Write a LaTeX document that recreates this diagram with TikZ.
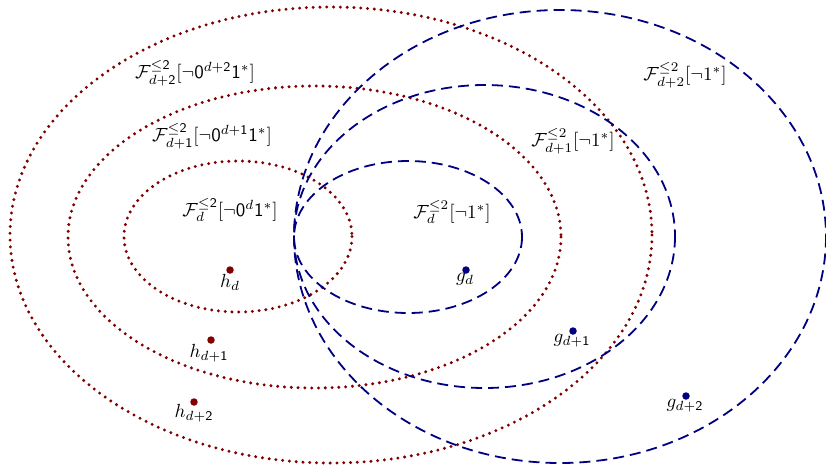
\documentclass[tikz,border=0pt]{standalone}
\newcommand{\sd}[1]{\mathsf{#1}}
\begin{document}
\begin{tikzpicture}[x=1pt,y=-1pt,
  redc/.style={draw=red!50!black, line width=3.3pt, line cap=round, dash pattern=on 0pt off 6.8pt},
  bluec/.style={draw=blue!50!black, line width=1.8pt, dash pattern=on 11pt off 6pt},
  lab/.style={scale=1.9, inner sep=0pt},
  ptlab/.style={scale=1.9, inner sep=0pt, anchor=north},
  rdot/.style={circle, fill=red!50!black, inner sep=0pt, minimum size=7.5pt},
  bdot/.style={circle, fill=blue!50!black, inner sep=0pt, minimum size=7.5pt}]
\useasboundingbox (0,0) rectangle (826,467);
% red ellipses
\draw[redc] (331,235) ellipse [x radius=321, y radius=228];
\draw[redc] (314.5,237) ellipse [x radius=246.5, y radius=151];
\draw[redc] (238,236.5) ellipse [x radius=114, y radius=75.5];
% blue ellipses
\draw[bluec] (560,236.5) ellipse [x radius=266, y radius=226.5];
\draw[bluec] (484.5,236.5) ellipse [x radius=190.5, y radius=151.5];
\draw[bluec] (408,237) ellipse [x radius=114, y radius=76];
% labels
\node[lab] (l1) at (195,73) {$\mathcal{F}^{\le \sd{2}}_{d+\sd{2}}[\neg \sd{0}^{d+\sd{2}}\sd{1}^*]$};
\node[lab] (l2) at (212,136) {$\mathcal{F}^{\le \sd{2}}_{d+\sd{1}}[\neg \sd{0}^{d+\sd{1}}\sd{1}^*]$};
\node[lab] (l3) at (230,210) {$\mathcal{F}^{\le \sd{2}}_{d}[\neg \sd{0}^{d}\sd{1}^*]$};
\node[lab] (l4) at (452,212) {$\mathcal{F}^{\le 2}_{d}[\neg 1^*]$};
\node[lab] (l5) at (573,141) {$\mathcal{F}^{\le 2}_{d+1}[\neg 1^*]$};
\node[lab] (l6) at (685,75) {$\mathcal{F}^{\le 2}_{d+2}[\neg 1^*]$};
% points
\node[rdot] (hd) at (230,270) {};
\node[ptlab] (hdl) at (230,274) {$h_d$};
\node[rdot] (hd1) at (211,340) {};
\node[ptlab] (hd1l) at (209,344) {$h_{d+\sd{1}}$};
\node[rdot] (hd2) at (194,402) {};
\node[ptlab] (hd2l) at (194,404) {$h_{d+\sd{2}}$};
\node[bdot] (gd) at (466,270) {};
\node[ptlab] (gdl) at (465,273) {$g_d$};
\node[bdot] (gd1) at (573,331) {};
\node[ptlab] (gd1l) at (572,334) {$g_{d+\sd{1}}$};
\node[bdot] (gd2) at (686,396) {};
\node[ptlab] (gd2l) at (685,399) {$g_{d+\sd{2}}$};
\end{tikzpicture}
\end{document}
